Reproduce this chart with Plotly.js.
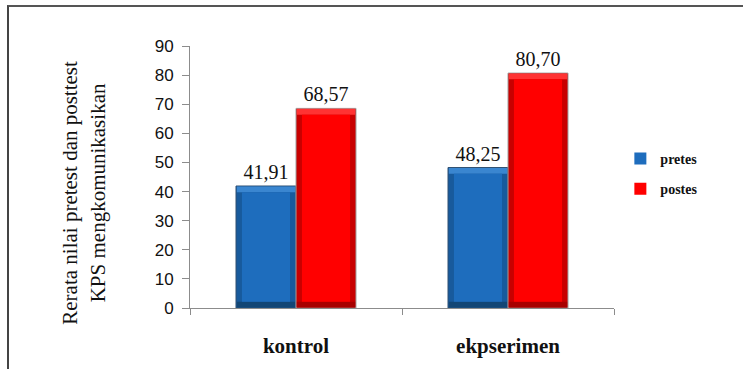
<!DOCTYPE html>
<html>
<head>
<meta charset="utf-8">
<script src="https://cdn.plot.ly/plotly-3.0.1.min.js"></script>
<style>
  html, body { margin: 0; padding: 0; background: #fff; overflow: hidden; }
  #wrap { position: relative; width: 743px; height: 369px; }
  #chart { position: absolute; left: 0; top: 0; width: 743px; height: 369px; }
  #frame {
    position: absolute; left: 7px; top: 5px; width: 800px; height: 400px;
    border-top: 2px solid #555; border-left: 2px solid #444;
    pointer-events: none;
  }
</style>
</head>
<body>
<div id="wrap">
  <div id="chart"></div>
  <div id="frame"></div>
</div>
<script>
// Mean KPS (communicating skill) scores, pretest vs posttest
const categories = ['kontrol', 'ekpserimen'];
const pretes = [41.91, 48.25];
const postes = [68.57, 80.70];
const seriesNames = ['pretes', 'postes'];
const yTicks = [0, 10, 20, 30, 40, 50, 60, 70, 80, 90];
const yTitle = 'Rerata nilai pretest dan posttest<br>KPS mengkomunikasikan';

const SERIF = "'Liberation Serif', 'Times New Roman', Times, serif";

// bar geometry in category units
const barW = 0.283;
const rimX = 0.028;  // side rim of the bevel
const rimY = 2.0;    // top/bottom rim of the bevel (value units)

const styles = [
  { face: '#1e6dbd', rim: '#185a9c', light: '#3a86d0', bottom: '#124675', edge: '#2f4f70', off: -barW },
  { face: '#ff0000', rim: '#c80000', light: '#ff3333', bottom: '#a80000', edge: '#a0a0a0', off: 0 }
];

function bevelBar(vals, name, s) {
  const outer = {
    type: 'bar', x: categories, y: vals, name: name, showlegend: false,
    offset: s.off, width: barW,
    marker: { color: s.rim, line: { color: s.edge, width: 1 } },
    texttemplate: '%{y:.2f}', textposition: 'outside', cliponaxis: false,
    textfont: { family: SERIF, size: 20, color: '#111' },
    outsidetextfont: { family: SERIF, size: 20, color: '#111' },
    hoverinfo: 'skip'
  };
  const bottom = {
    type: 'bar', x: categories, y: vals.map(() => rimY),
    base: vals.map(() => 0.15), showlegend: false,
    offset: s.off + 0.004, width: barW - 0.008,
    marker: { color: s.bottom, line: { width: 0 } }, hoverinfo: 'skip'
  };
  const top = {
    type: 'bar', x: categories, y: vals.map(() => rimY),
    base: vals.map(v => v - rimY - 0.15), showlegend: false,
    offset: s.off + 0.004, width: barW - 0.008,
    marker: { color: s.light, line: { width: 0 } }, hoverinfo: 'skip'
  };
  const face = {
    type: 'bar', x: categories, y: vals.map(v => v - 2 * rimY - 0.3),
    base: vals.map(() => rimY + 0.15), name: name, legendgroup: name,
    offset: s.off + rimX, width: barW - 2 * rimX,
    marker: { color: s.face, line: { width: 0 } },
    hovertemplate: name + ': %{customdata:.2f}<extra></extra>', customdata: vals
  };
  return [outer, bottom, top, face];
}

const data = [
  ...bevelBar(pretes, seriesNames[0], styles[0]),
  ...bevelBar(postes, seriesNames[1], styles[1])
];

const layout = {
  width: 743, height: 369,
  margin: { l: 190, r: 129, t: 46, b: 61 },
  paper_bgcolor: '#fff', plot_bgcolor: '#fff',
  barmode: 'overlay',
  separators: ',.',
  showlegend: true,
  legend: {
    x: 1.015, y: 0.63, xanchor: 'left', yanchor: 'top',
    font: { family: SERIF, size: 14, color: '#111', weight: 'bold' },
    traceorder: 'grouped', tracegroupgap: 9, itemwidth: 30
  },
  xaxis: {
    type: 'category',
    showline: true, linecolor: '#8c8c8c', linewidth: 1,
    ticks: 'outside', tickson: 'boundaries', ticklen: 6, tickcolor: '#8c8c8c',
    ticklabelstandoff: 19,
    tickfont: { family: SERIF, size: 21, color: '#111', weight: 'bold' },
    showgrid: false, zeroline: false, fixedrange: true
  },
  yaxis: {
    range: [0, 90], tickvals: yTicks, ticktext: yTicks.map(String),
    showline: true, linecolor: '#8c8c8c', linewidth: 1,
    ticks: 'outside', ticklen: 7, tickcolor: '#8c8c8c',
    ticklabelstandoff: 5,
    tickfont: { family: "'Liberation Sans', Arial, sans-serif", size: 17, color: '#111' },
    showgrid: false, zeroline: false, fixedrange: true
  },
  // y-axis title, set a little below the plot's vertical centre
  annotations: [{
    text: yTitle, textangle: -90, showarrow: false,
    xref: 'paper', yref: 'paper', x: -0.25, y: 0.44,
    xanchor: 'center', yanchor: 'middle', align: 'center',
    font: { family: SERIF, size: 21, color: '#111' }
  }]
};

Plotly.newPlot('chart', data, layout, { displayModeBar: false, staticPlot: true });
</script>
</body>
</html>
